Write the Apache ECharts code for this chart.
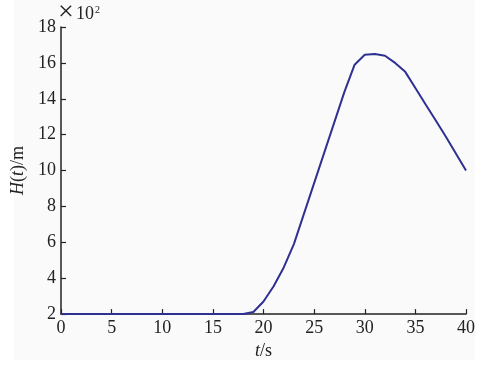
<!DOCTYPE html>
<html>
<head>
<meta charset="utf-8">
<script src="https://cdn.jsdelivr.net/npm/echarts@6/dist/echarts.min.js"></script>
<style>
  html, body { margin: 0; padding: 0; background: #fff; }
  #chart { width: 488px; height: 365px; }
</style>
</head>
<body>
<div id="chart"></div>
<script>
// time (s) and height (x10^2 m)
var times = [0, 1, 2, 3, 4, 5, 6, 7, 8, 9, 10, 11, 12, 13, 14, 15, 16, 17, 18, 19, 20,
             21, 22, 23, 24, 25, 26, 27, 28, 29, 30, 31, 32, 33, 34, 35, 36, 37, 38, 39, 40]
var heights = [2, 2, 2, 2, 2, 2, 2, 2, 2, 2, 2, 2, 2, 2, 2, 2, 2, 2, 2, 2.12, 2.7,
               3.55, 4.6, 5.9, 7.6, 9.3, 11.0, 12.7, 14.4, 15.9, 16.45, 16.5, 16.4, 16.0, 15.5,
               14.6, 13.7, 12.8, 11.9, 10.95, 10.0]
var xTicks = [0, 5, 10, 15, 20, 25, 30, 35, 40]
var yTicks = [2, 4, 6, 8, 10, 12, 14, 16, 18]

var points = times.map(function (t, i) { return [t, heights[i]] })
var font = 'Liberation Serif'

var chart = echarts.init(document.getElementById('chart'))
chart.setOption({
    backgroundColor: '#ffffff',
    animation: false,
    grid: { left: 61, right: 22, top: 27, bottom: 43 },
    graphic: [
        {
            type: 'rect', z: -10, silent: true,
            shape: { x: 14, y: 0, width: 461, height: 360 },
            style: { fill: '#fafafa' }
        },
        {
            type: 'text', x: 58, y: -1, silent: true,
            style: { text: '×', fontSize: 28, fontFamily: font, fill: '#222' }
        },
        {
            type: 'text', x: 76, y: 5, silent: true,
            style: { text: '10', fontSize: 18, fontFamily: font, fill: '#222' }
        },
        {
            type: 'text', x: 95, y: 5, silent: true,
            style: { text: '2', fontSize: 10, fontFamily: font, fill: '#222' }
        }
    ],
    xAxis: {
        type: 'value',
        min: 0, max: 40, interval: 5,
        name: '{i|t}/s',
        nameLocation: 'middle',
        nameGap: 26,
        nameTextStyle: {
            fontFamily: font, fontSize: 18, color: '#222',
            rich: { i: { fontFamily: font, fontSize: 18, fontStyle: 'italic', color: '#222' } }
        },
        axisLine: { lineStyle: { color: '#222', width: 1.5 } },
        axisTick: { inside: true, length: 5, lineStyle: { color: '#222', width: 1.2 } },
        axisLabel: { fontFamily: font, fontSize: 18, color: '#222', margin: 5 },
        splitLine: { show: false }
    },
    yAxis: {
        type: 'value',
        min: 2, max: 18, interval: 2,
        name: '{i|H}({i|t})/m',
        nameLocation: 'middle',
        nameGap: 31,
        nameTextStyle: {
            fontFamily: font, fontSize: 18, color: '#222',
            rich: { i: { fontFamily: font, fontSize: 18, fontStyle: 'italic', color: '#222' } }
        },
        axisLine: { show: true, lineStyle: { color: '#222', width: 1.5 } },
        axisTick: { show: true, inside: true, length: 5, lineStyle: { color: '#222', width: 1.2 } },
        axisLabel: { fontFamily: font, fontSize: 18, color: '#222', margin: 5 },
        splitLine: { show: false }
    },
    series: [{
        type: 'line',
        data: points,
        symbol: 'none',
        lineStyle: { color: '#2e3192', width: 2 }
    }]
})
</script>
</body>
</html>
